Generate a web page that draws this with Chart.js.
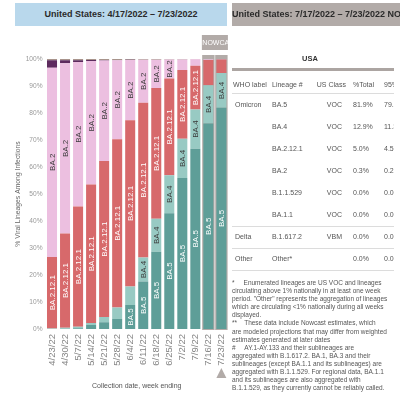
<!DOCTYPE html>
<html><head><meta charset="utf-8">
<script src="https://cdn.jsdelivr.net/npm/chart.js@4.4.1/dist/chart.umd.min.js"></script>
<style>
html,body{margin:0;padding:0;width:400px;height:398px;overflow:hidden;background:#fff;font-family:"Liberation Sans",Arial,sans-serif;}
#wrap{position:relative;width:400px;height:398px;overflow:hidden;}
#c{position:absolute;left:0;top:0;}
.box{position:absolute;top:3px;height:23px;line-height:23px;font-weight:bold;font-size:9px;color:#2a2a2a;white-space:nowrap;overflow:hidden;}
#tbl{position:absolute;left:231px;top:50px;width:163px;height:230px;overflow:hidden;}
.t{position:absolute;white-space:nowrap;color:#555;font-size:7px;line-height:8px;}
.ln{position:absolute;left:1px;width:162px;height:1px;background:#dcdcdc;}
#notes{position:absolute;left:232px;top:279px;width:170px;font-size:6.5px;line-height:8.1px;color:#555;white-space:pre;}
</style></head>
<body><div id="wrap">
<canvas id="c" width="238" height="398"></canvas>
<div class="box" style="left:15px;width:212px;background:#b9d8ec;text-align:center;">United States: 4/17/2022 – 7/23/2022</div>
<div class="box" style="left:232px;width:180px;background:#b2aba8;">United States: 7/17/2022 – 7/23/2022 NOWCAST</div>
<div id="tbl"></div>
<div id="notes"></div>
</div>
<script>
const categories = ['4/23/22','4/30/22','5/7/22','5/14/22','5/21/22','5/28/22','6/4/22','6/11/22','6/18/22','6/25/22','7/2/22','7/9/22','7/16/22','7/23/22'];
const nowcastWeeks = ['7/16/22','7/23/22'];
const ba5    = [0.0, 0.1, 0.3, 1.5, 2.5, 3.7, 8.9, 17.6, 28.6, 42.9, 55.9, 66.8, 76.1, 81.9];
const ba4    = [0.2, 0.4, 0.5, 0.7, 1.9, 4.3, 6.8, 8.9, 12.2, 14.0, 14.6, 14.5, 14.2, 12.9];
const ba2121 = [26.5, 34.9, 44.6, 51.3, 57.8, 62.3, 61.6, 57.3, 48.5, 35.9, 25.4, 16.2, 9.3, 5.0];
const ba2    = [70.1, 63.0, 53.5, 45.8, 37.2, 29.2, 22.3, 15.9, 10.4, 7.0, 3.9, 2.4, 0.3, 0.2];
const ba11   = [2.7, 1.1, 0.6, 0.3, 0.2, 0.1, 0.1, 0.0, 0.0, 0.0, 0.0, 0.0, 0.0, 0.0];
const otherL = [0.5, 0.5, 0.5, 0.4, 0.4, 0.4, 0.3, 0.3, 0.3, 0.2, 0.2, 0.1, 0.1, 0.0];

const tblHeaders = ['WHO label','Lineage #','US Class','%Total','95%PI'];
const tblWho     = ['Omicron','','','','','','Delta','Other'];
const tblLineage = ['BA.5','BA.4','BA.2.12.1','BA.2','B.1.1.529','BA.1.1','B.1.617.2','Other*'];
const tblClass   = ['VOC','VOC','VOC','VOC','VOC','VOC','VBM',''];
const tblPct     = ['81.9%','12.9%','5.0%','0.3%','0.0%','0.0%','0.0%','0.0%'];
const tblPI      = ['79.5-84.0%','11.3-14.6%','4.5-5.6%','0.2-0.4%','0.0-0.0%','0.0-0.0%','0.0-0.0%','0.0-0.0%'];
const notesLines = [
 '*     Enumerated lineages are US VOC and lineages',
 'circulating above 1% nationally in at least one week',
 'period. "Other" represents the aggregation of lineages',
 'which are circulating <1% nationally during all weeks',
 'displayed.',
 '**    These data include Nowcast estimates, which',
 'are modeled projections that may differ from weighted',
 'estimates generated at later dates',
 '#     AY.1-AY.133 and their sublineages are',
 'aggregated with B.1.617.2. BA.1, BA.3 and their',
 'sublineages (except BA.1.1 and its sublineages) are',
 'aggregated with B.1.1.529. For regional data, BA.1.1',
 'and its sublineages are also aggregated with',
 'B.1.1.529, as they currently cannot be reliably called.'
];

// ---- table (HTML) ----
(function(){
  const T = document.getElementById('tbl');
  const add = (txt, css) => { const d=document.createElement('div'); d.className='t'; d.textContent=txt; d.style.cssText+=css; T.appendChild(d); return d; };
  const o = 231, top = 50;
  add('USA', `left:${310-o-15}px;width:30px;text-align:center;top:${59-top-4}px;font-weight:bold;color:#333;font-size:7.5px;`);
  const bar = document.createElement('div'); bar.style.cssText=`position:absolute;left:1px;top:${68-top}px;width:163px;height:3px;background:#aca5a2;`; T.appendChild(bar);
  const colLeft = [233, 272, null, 353, 384];
  const hy = 85 - top - 4;
  tblHeaders.forEach((h,i)=>{
    if (i===2) add(h, `right:${163-(346-o)}px;top:${hy}px;`);
    else add(h, `left:${colLeft[i]-o}px;top:${hy}px;`);
  });
  const l0 = document.createElement('div'); l0.className='ln'; l0.style.top=(93-top)+'px'; T.appendChild(l0);
  tblLineage.forEach((ln,r)=>{
    const y = 105 + 22*r - top - 4;
    if (tblWho[r]) add(tblWho[r], `left:${235-o}px;top:${y}px;`);
    add(ln, `left:${272-o}px;top:${y}px;`);
    if (tblClass[r]) add(tblClass[r], `right:${163-(342-o)}px;top:${y}px;`);
    add(tblPct[r], `left:${353-o}px;top:${y}px;`);
    add(tblPI[r], `left:${384-o}px;top:${y}px;`);
  });
  [226, 248, 270].forEach(yy=>{ const l=document.createElement('div'); l.className='ln'; l.style.top=(yy-top)+'px'; T.appendChild(l); });
  document.getElementById('notes').textContent = notesLines.join('\n');
})();

// ---- chart ----
const FONT = '"Liberation Sans", Arial, sans-serif';
const frameColor = '#b2aba8';

const nowcastPlugin = {
  id: 'nowcast',
  beforeDatasetsDraw(chart) {
    const {ctx, scales:{x, y}} = chart;
    const y100 = y.getPixelForValue(100), y0 = y.getPixelForValue(0);
    ctx.save();
    ctx.fillStyle = frameColor;
    nowcastWeeks.forEach(w => {
      const cx = x.getPixelForValue(categories.indexOf(w));
      ctx.fillRect(cx - 6.2, y100 - 4, 12.4, y0 - y100 + 5);
    });
    const x0 = x.getPixelForValue(categories.indexOf(nowcastWeeks[0])) - 6.5;
    const x1 = x.getPixelForValue(categories.indexOf(nowcastWeeks[nowcastWeeks.length-1])) + 6.5;
    ctx.fillRect(x0, 35, x1 - x0, 15);
    ctx.beginPath(); ctx.rect(x0, 35, x1 - x0, 15); ctx.clip();
    ctx.fillStyle = '#ffffff';
    ctx.font = '7px ' + FONT;
    ctx.textBaseline = 'middle';
    ctx.fillText('NOWCAST', x0 + 0.5, 43);
    ctx.restore();
  },
  afterDraw(chart) {
    const {ctx, scales:{x}} = chart;
    const cx = x.getPixelForValue(categories.indexOf(nowcastWeeks[nowcastWeeks.length-1]));
    ctx.save();
    ctx.fillStyle = frameColor;
    ctx.beginPath();
    ctx.moveTo(cx, 368); ctx.lineTo(cx + 5, 378); ctx.lineTo(cx - 5, 378); ctx.closePath();
    ctx.fill();
    ctx.restore();
  }
};

const labelPlugin = {
  id: 'segLabels',
  afterDatasetsDraw(chart) {
    const ctx = chart.ctx;
    ctx.save();
    ctx.font = '8px ' + FONT;
    ctx.textAlign = 'center';
    ctx.textBaseline = 'middle';
    chart.data.datasets.forEach((ds, di) => {
      if (!ds.labelColor) return;
      const w = ctx.measureText(ds.label).width;
      chart.getDatasetMeta(di).data.forEach(el => {
        const h = Math.abs(el.base - el.y);
        if (h < w + 1.5) return;
        ctx.save();
        ctx.translate(el.x, (el.y + el.base) / 2);
        ctx.rotate(-Math.PI / 2);
        ctx.fillStyle = ds.labelColor;
        ctx.fillText(ds.label, 0, 0.5);
        ctx.restore();
      });
    });
    ctx.restore();
  }
};

const mk = (label, data, color, labelColor) => ({label, data, backgroundColor: color, borderWidth: 0, labelColor,
  barPercentage: 0.77, categoryPercentage: 1.0});

new Chart(document.getElementById('c'), {
  type: 'bar',
  data: {
    labels: categories,
    datasets: [
      mk('BA.5', ba5, '#5e9e98', '#ffffff'),
      mk('BA.4', ba4, '#98cac3', '#3a3a3a'),
      mk('BA.2.12.1', ba2121, '#d7696b', '#ffffff'),
      mk('BA.2', ba2, '#ecbfe0', '#3a3a3a'),
      mk('BA.1.1', ba11, '#5d2b5e', null),
      mk('Other', otherL, '#a8948c', null)
    ]
  },
  options: {
    responsive: false,
    animation: false,
    devicePixelRatio: 1,
    layout: {padding: {top: 59, right: 5.5, bottom: 0, left: 0}},
    plugins: {legend: {display: false}, tooltip: {enabled: false}},
    scales: {
      x: {
        stacked: true,
        grid: {display: false, drawTicks: false},
        border: {display: false},
        ticks: {autoSkip: false, minRotation: 90, maxRotation: 90, padding: 5, color: '#858585', font: {family: FONT, size: 9.5}},
        title: {display: true, text: 'Collection date, week ending', color: '#555', font: {family: FONT, size: 7}, padding: {top: 0, bottom: 7.8}},
        afterFit(s) { s.height = 69; }
      },
      y: {
        stacked: true, min: 0, max: 100,
        grid: {display: false, drawTicks: false},
        border: {display: false},
        ticks: {stepSize: 10, padding: 3, color: '#999', font: {family: FONT, size: 6.6}, callback: v => v + '%'},
        title: {display: true, text: '% Viral Lineages Among Infections', color: '#666', font: {family: FONT, size: 6.8}, padding: {top: 14, bottom: 0}},
        afterFit(s) { s.width = 45.5; }
      }
    }
  },
  plugins: [nowcastPlugin, labelPlugin]
});
</script>
</body></html>
